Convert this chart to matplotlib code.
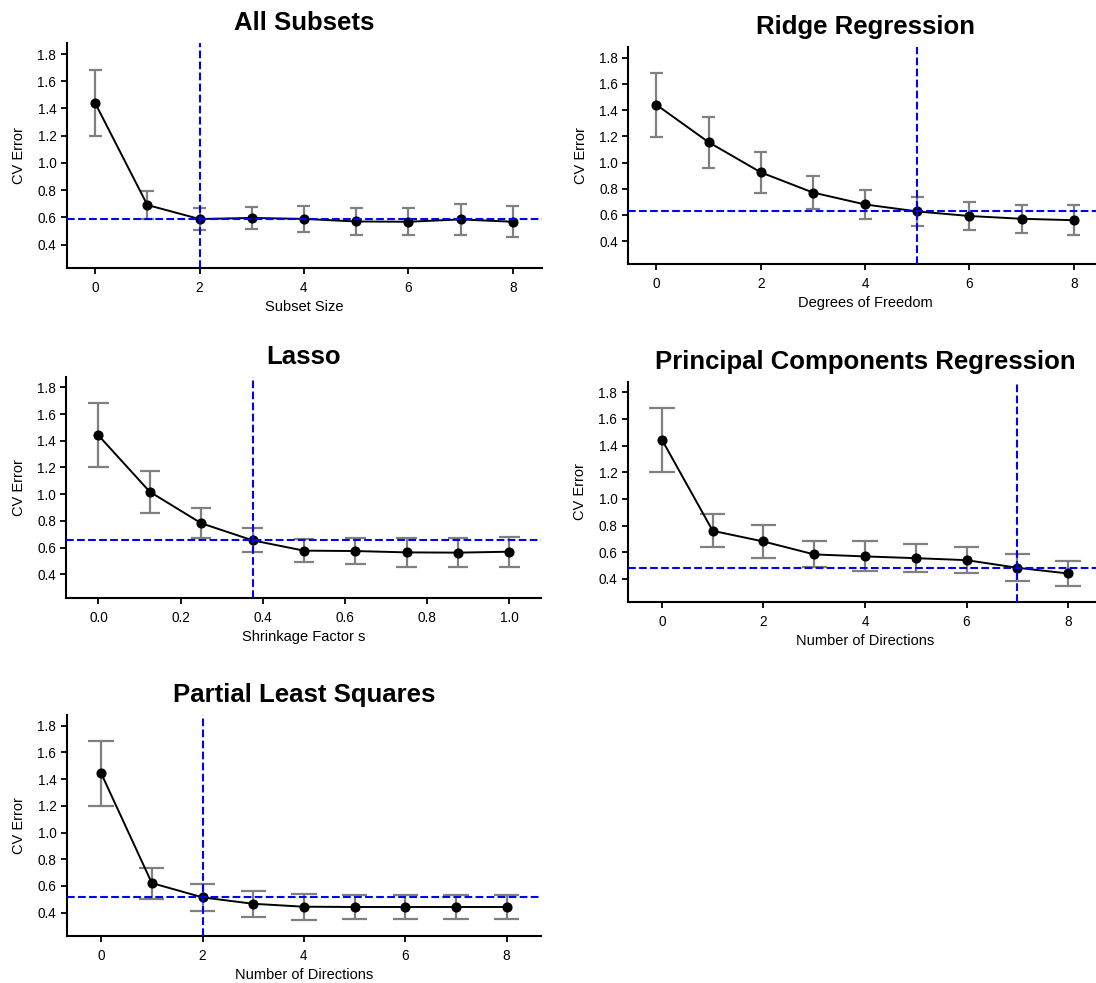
import numpy as np
import matplotlib
matplotlib.use("Agg")
import matplotlib.pyplot as plt

plt.rcParams['font.family'] = ['Liberation Sans', 'DejaVu Sans']

# ---- data ----
titles = ["All Subsets", "Ridge Regression", "Lasso",
          "Principal Components Regression", "Partial Least Squares"]
xlabels = ["Subset Size", "Degrees of Freedom", "Shrinkage Factor s",
           "Number of Directions", "Number of Directions"]

x_subset = [0, 1, 2, 3, 4, 5, 6, 7, 8]
x_lasso = [0.0, 0.125, 0.25, 0.375, 0.5, 0.625, 0.75, 0.875, 1.0]

cv_subset = [1.44, 0.691, 0.588, 0.596, 0.589, 0.570, 0.568, 0.585, 0.568]
se_subset = [0.240, 0.105, 0.084, 0.083, 0.097, 0.097, 0.099, 0.116, 0.113]

cv_ridge = [1.44, 1.155, 0.925, 0.771, 0.680, 0.627, 0.592, 0.571, 0.560]
se_ridge = [0.2425, 0.196, 0.156, 0.129, 0.1125, 0.1075, 0.1055, 0.108, 0.1125]

cv_lasso = [1.44, 1.018, 0.783, 0.655, 0.578, 0.575, 0.565, 0.563, 0.570]
se_lasso = [0.240, 0.1575, 0.1125, 0.089, 0.085, 0.100, 0.109, 0.110, 0.1125]

cv_pcr = [1.443, 0.760, 0.680, 0.583, 0.568, 0.555, 0.540, 0.483, 0.440]
se_pcr = [0.241, 0.125, 0.1275, 0.0975, 0.1125, 0.106, 0.095, 0.101, 0.0925]

cv_pls = [1.443, 0.622, 0.515, 0.467, 0.445, 0.443, 0.443, 0.443, 0.443]
se_pls = [0.241, 0.116, 0.101, 0.096, 0.096, 0.091, 0.091, 0.091, 0.091]

best_x = [2, 5, 0.375, 7, 2]
best_y = [0.588, 0.627, 0.655, 0.483, 0.515]

xs = [x_subset, x_subset, x_lasso, x_subset, x_subset]
cvs = [cv_subset, cv_ridge, cv_lasso, cv_pcr, cv_pls]
ses = [se_subset, se_ridge, se_lasso, se_pcr, se_pls]
cap_half = [0.125, 0.125, 0.025, 0.25, 0.25]
xlims = [(-0.545, 8.555), (-0.54, 8.54), (-0.078, 1.077), (-0.675, 8.675), (-0.68, 8.68)]
xticks = [[0, 2, 4, 6, 8], [0, 2, 4, 6, 8], [0.0, 0.2, 0.4, 0.6, 0.8, 1.0],
          [0, 2, 4, 6, 8], [0, 2, 4, 6, 8]]

# axes boxes in pixels: left, top, right, bottom
W, H = 1096, 983
boxes = [(66.7, 43.3, 541.7, 268.3),
         (628.3, 47.3, 1102.0, 264.0),
         (66.4, 376.7, 541.0, 597.7),
         (627.7, 381.7, 1102.3, 602.0),
         (66.7, 715.0, 541.0, 936.0)]

fig = plt.figure(figsize=(W / 100, H / 100), dpi=100)

for i in range(5):
    l, t, r, b = boxes[i]
    ax = fig.add_axes([l / W, (H - b) / H, (r - l) / W, (b - t) / H])
    x = np.array(xs[i], dtype=float)
    y = np.array(cvs[i])
    e = np.array(ses[i])
    # error bars
    ax.vlines(x, y - e, y + e, color='#808080', lw=1.6, zorder=2)
    ax.hlines(y - e, x - cap_half[i], x + cap_half[i], color='#808080', lw=1.6, zorder=2)
    ax.hlines(y + e, x - cap_half[i], x + cap_half[i], color='#808080', lw=1.6, zorder=2)
    # curve
    ax.plot(x, y, color='black', lw=1.4, marker='o', markersize=6.3, zorder=3)
    # selection lines
    ax.axhline(best_y[i], color='blue', ls='--', lw=1.5, zorder=4)
    ax.axvline(best_x[i], color='blue', ls='--', lw=1.5, zorder=4)

    ax.set_xlim(*xlims[i])
    ax.set_ylim(0.226, 1.879)
    ax.set_yticks([0.4, 0.6, 0.8, 1.0, 1.2, 1.4, 1.6, 1.8])
    ax.set_yticklabels(["0.4", "0.6", "0.8", "1.0", "1.2", "1.4", "1.6", "1.8"])
    ax.set_xticks(xticks[i])
    if i == 2:
        ax.set_xticklabels(["0.0", "0.2", "0.4", "0.6", "0.8", "1.0"])
    ax.spines['top'].set_visible(False)
    ax.spines['right'].set_visible(False)
    ax.spines['left'].set_linewidth(1.5)
    ax.spines['bottom'].set_linewidth(1.5)
    ax.tick_params(direction='out', length=4.5, width=1.3, labelsize=9.8,
                   colors='black')
    ax.tick_params(axis='x', pad=5)
    ax.tick_params(axis='y', pad=3)
    ax.set_xlabel(xlabels[i], fontsize=10.5, labelpad=3.5)
    ax.set_ylabel("CV Error", fontsize=10.5, labelpad=8)
    ax.set_title(titles[i], fontsize=18.5, fontweight='bold', pad=9.5)

fig.savefig("out.png", dpi=100)
